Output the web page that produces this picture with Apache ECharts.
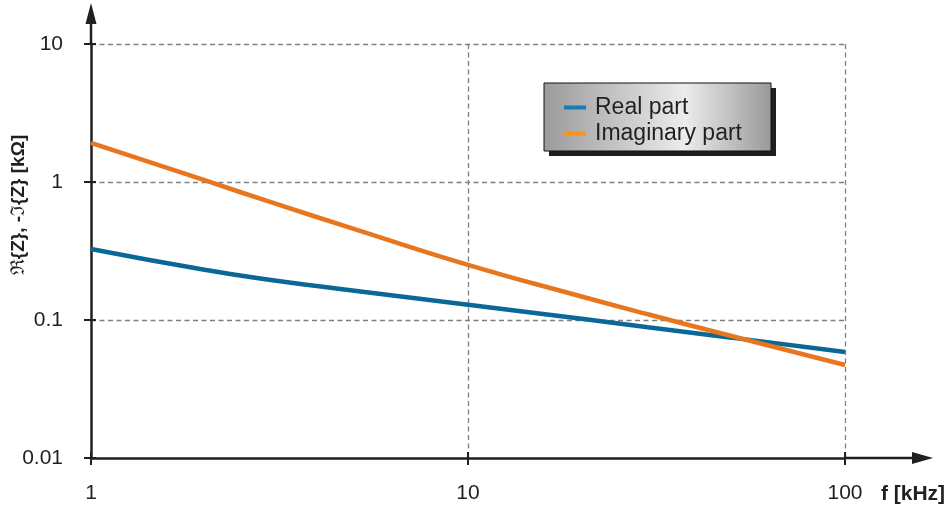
<!DOCTYPE html>
<html>
<head>
<meta charset="utf-8">
<script src="https://cdn.jsdelivr.net/npm/echarts@6/dist/echarts.min.js"></script>
<style>
  html, body { margin: 0; padding: 0; background: #fff; }
  #chart { width: 950px; height: 507px; }
</style>
</head>
<body>
<div id="chart"></div>
<script>
// Impedance spectrum: real part and negative imaginary part vs. frequency
const freqKHz   = [1, 2, 3, 5, 10, 20, 30, 50, 100];
const realPart  = [0.327, 0.231, 0.195, 0.163, 0.129, 0.102, 0.0887, 0.0745, 0.0586];
const imagPart  = [1.92, 1.03, 0.714, 0.456, 0.251, 0.148, 0.110, 0.0766, 0.0472];
const seriesNames = ['Real part', 'Imaginary part'];
const xTickLabels = [1, 10, 100];
const yTickLabels = [0.01, 0.1, 1, 10];

const FONT = "'Liberation Sans', Arial, Helvetica, sans-serif";
const INK = '#231f20';
const GRID_DASH = { color: '#7f7f7f', width: 1.3, type: [5, 3.5] };

function pickTick(list, v) {
  let best = list[0];
  for (const t of list) {
    if (Math.abs(Math.log10(t) - Math.log10(v)) < Math.abs(Math.log10(best) - Math.log10(v))) best = t;
  }
  return Math.abs(Math.log10(best) - Math.log10(v)) < 1e-6 ? String(best) : '';
}

const chart = echarts.init(document.getElementById('chart'), null, { renderer: 'canvas' });

const pairs = arr => freqKHz.map((f, i) => [f, arr[i]]);

chart.setOption({
  animation: false,
  backgroundColor: '#ffffff',
  grid: { left: 91, top: 44, right: 105, bottom: 49, containLabel: false },
  xAxis: [
    {
      type: 'log', logBase: 10, min: xTickLabels[0], max: xTickLabels[xTickLabels.length - 1],
      axisLine: { show: true, onZero: false, lineStyle: { color: INK, width: 2.5 } },
      axisTick: { show: true, inside: false, length: 7, lineStyle: { color: INK, width: 2 } },
      minorTick: { show: false },
      axisLabel: {
        show: true, margin: 25, fontSize: 21, color: INK, fontFamily: FONT,
        formatter: v => pickTick(xTickLabels, v)
      },
      splitLine: { show: true, showMinLine: false, showMaxLine: true, lineStyle: GRID_DASH }
    },
    {
      // inner half of the crossing tick marks
      type: 'log', logBase: 10, min: xTickLabels[0], max: xTickLabels[xTickLabels.length - 1],
      position: 'bottom',
      axisLine: { show: false },
      axisTick: { show: true, inside: true, length: 6, lineStyle: { color: INK, width: 2 } },
      axisLabel: { show: false },
      splitLine: { show: false }
    }
  ],
  yAxis: [
    {
      type: 'log', logBase: 10, min: yTickLabels[0], max: yTickLabels[yTickLabels.length - 1],
      axisLine: { show: true, onZero: false, lineStyle: { color: INK, width: 2.5 } },
      axisTick: { show: true, inside: false, length: 7, lineStyle: { color: INK, width: 2 } },
      axisLabel: {
        show: true, margin: 28, fontSize: 21, color: INK, fontFamily: FONT,
        formatter: v => pickTick(yTickLabels, v)
      },
      splitLine: { show: true, showMinLine: false, showMaxLine: true, lineStyle: GRID_DASH }
    },
    {
      type: 'log', logBase: 10, min: yTickLabels[0], max: yTickLabels[yTickLabels.length - 1],
      position: 'left',
      axisLine: { show: false },
      axisTick: { show: true, inside: true, length: 5, lineStyle: { color: INK, width: 2 } },
      axisLabel: { show: false },
      splitLine: { show: false }
    }
  ],
  legend: {
    orient: 'vertical',
    left: 559, top: 91,
    itemWidth: 22, itemHeight: 4, itemGap: 3,
    icon: 'rect',
    z: 10,
    textStyle: { fontSize: 23, color: INK, fontFamily: FONT, padding: [0, 0, 0, 4] },
    data: [
      { name: seriesNames[0], itemStyle: { color: '#1b7ab8' } },
      { name: seriesNames[1], itemStyle: { color: '#f7931e' } }
    ]
  },
  series: [
    {
      name: seriesNames[0], type: 'line', xAxisIndex: 0, yAxisIndex: 0,
      data: pairs(realPart), smooth: true, showSymbol: false, z: 3,
      lineStyle: { color: '#0a6896', width: 4.5 }, itemStyle: { color: '#0a6896' }
    },
    {
      name: seriesNames[1], type: 'line', xAxisIndex: 0, yAxisIndex: 0,
      data: pairs(imagPart), smooth: true, showSymbol: false, z: 4,
      lineStyle: { color: '#e8761e', width: 4.5 }, itemStyle: { color: '#e8761e' }
    }
  ]
});

// Axis arrows, legend frame and axis titles
const origin = chart.convertToPixel({ xAxisIndex: 0, yAxisIndex: 0 }, [xTickLabels[0], yTickLabels[0]]);
const corner = chart.convertToPixel({ xAxisIndex: 0, yAxisIndex: 0 },
  [xTickLabels[xTickLabels.length - 1], yTickLabels[yTickLabels.length - 1]]);
const ox = origin[0], oy = origin[1], rx = corner[0], ty = corner[1];

chart.setOption({
  graphic: [
    { type: 'line', z: 5, silent: true,
      shape: { x1: ox, y1: ty, x2: ox, y2: ty - 22 },
      style: { stroke: INK, lineWidth: 2.5 } },
    { type: 'polygon', z: 5, silent: true,
      shape: { points: [[ox - 5.5, ty - 20], [ox + 5.5, ty - 20], [ox, ty - 41]] },
      style: { fill: INK } },
    { type: 'line', z: 5, silent: true,
      shape: { x1: rx, y1: oy, x2: rx + 70, y2: oy },
      style: { stroke: INK, lineWidth: 2.5 } },
    { type: 'polygon', z: 5, silent: true,
      shape: { points: [[rx + 67, oy - 6], [rx + 67, oy + 6], [rx + 88, oy]] },
      style: { fill: INK } },
    // legend frame with drop shadow
    { type: 'rect', z: 1, silent: true,
      shape: { x: 549, y: 88, width: 227, height: 68 },
      style: { fill: '#1e1e1e' } },
    { type: 'rect', z: 2, silent: true,
      shape: { x: 544, y: 83, width: 227, height: 68 },
      style: {
        fill: new echarts.graphic.LinearGradient(0, 0, 1, 0, [
          { offset: 0, color: '#9a9a9a' },
          { offset: 0.62, color: '#ececec' },
          { offset: 1, color: '#999999' }
        ]),
        stroke: '#111', lineWidth: 1
      } },
    // y axis title
    { type: 'text', z: 5, silent: true,
      x: 19, y: 205, rotation: Math.PI / 2,
      style: {
        text: '{f|ℜ}{Z}, -{f|ℑ}{Z} [kΩ]',
        font: "bold 19px 'Liberation Sans', Arial, sans-serif",
        fill: INK, align: 'center', verticalAlign: 'middle',
        rich: {
          f: { fontFamily: "'DejaVu Serif', serif", fontWeight: 'normal', fontSize: 19, fill: INK }
        }
      } },
    // x axis title
    { type: 'text', z: 5, silent: true,
      x: rx + 68, y: oy + 36,
      style: {
        text: 'f [kHz]',
        font: "bold 21px 'Liberation Sans', Arial, sans-serif",
        fill: INK, align: 'center', verticalAlign: 'middle'
      } }
  ]
});
</script>
</body>
</html>
